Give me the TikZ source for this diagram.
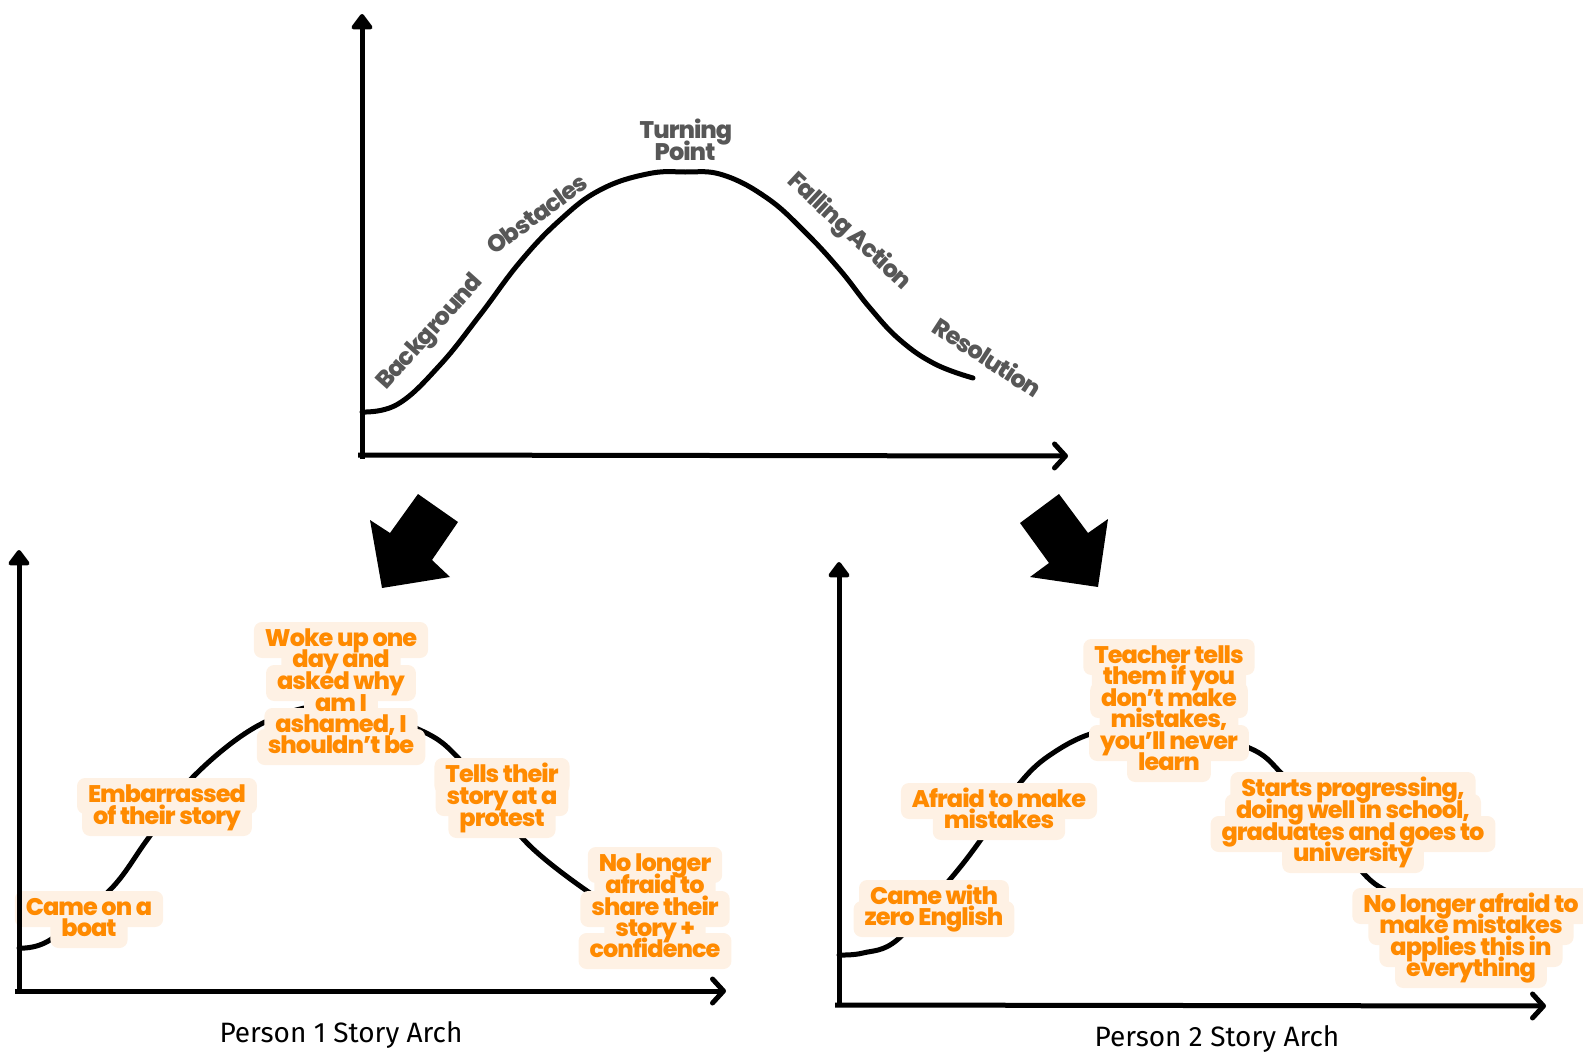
\documentclass[tikz,border=0pt]{standalone}
\usepackage{fontspec}
\setmainfont{Fira Sans}
\newfontfamily\lblfont{Poppins ExtraBold}[LetterSpace=-4]
\newfontfamily\ttlfont{Fira Sans}
\usetikzlibrary{arrows.meta}
\definecolor{peach}{HTML}{FEF1E4}
\definecolor{lblorange}{HTML}{FF8A00}
\definecolor{lblgray}{HTML}{575757}
\pgfdeclarelayer{curves}
\pgfdeclarelayer{hl}
\pgfsetlayers{curves,hl,main}
\newcommand\hlline[4]{%
  \begin{pgfonlayer}{hl}\node[hlbox] at (#2,#3) {#4};\end{pgfonlayer}
  \node[hltext] (#1) at (#2,#3) {#4};}
\tikzset{
  hltext/.style={font=\lblfont\fontsize{24}{24}\selectfont, text=lblorange,
    inner xsep=0pt, inner ysep=0pt, text height=17pt, text depth=5pt},
  hlbox/.style={hltext, fill=peach, text opacity=0, rounded corners=8pt,
    inner xsep=11pt, inner ysep=7pt},
  toplbl/.style={font=\lblfont\fontsize{24}{24}\selectfont, text=lblgray,
    fill=white, inner sep=2pt},
  axisline/.style={line width=5pt, black},
  curveline/.style={line width=5pt, black, line cap=round},
  vtip/.style={-{Triangle[length=17pt,width=24pt,round]}},
  htip/.style={-{Straight Barb[length=11pt,width=24pt,round]}},
  ttl/.style={font=\ttlfont\fontsize{28}{28}\selectfont, text=black}
}
\begin{document}
\begin{tikzpicture}[x=1pt,y=-1pt]
\useasboundingbox (0,0) rectangle (1583,1052);
% ---------- top chart ----------
\coordinate (tO) at (362,459);
\coordinate (tY) at (362,14);
\coordinate (tX0) at (358,455);
\coordinate (tX) at (1068,456);
\draw[axisline, vtip] (tO) -- (tY);
\draw[axisline, htip] (tX0) -- (tX);
\begin{pgfonlayer}{curves}
\draw[curveline] plot[smooth, tension=0.7] coordinates {(362,412) (398,404) (440,365) (480,315) (520,262) (560,220) (600,190) (647,174) (685,172) (723,175) (767,198) (805,232) (840,270) (870,308) (900,340) (935,364) (973,378)};
\end{pgfonlayer}
\node[toplbl, rotate=48] (bg) at (431,333) {Background};
\node[toplbl, rotate=36] (ob) at (537,214) {Obstacles};
\node[toplbl] (tp1) at (686,132) {Turning};
\node[toplbl] (tp2) at (685,151) {Point};
\node[toplbl, rotate=-43] (fa) at (849,232) {Falling Action};
\node[toplbl, rotate=-33] (rs) at (988,357) {Resolution};
% ---------- big arrows ----------
\fill[black] (418,494) -- (458,522) -- (432,560) -- (450,577) -- (382,588) -- (370,520) -- (390,533) -- cycle;
\fill[black] (1059,494) -- (1088,533) -- (1108,519) -- (1098,587) -- (1030,577) -- (1049,563) -- (1020,523) -- cycle;
% ---------- person 1 ----------
\coordinate (aO) at (19,991);
\coordinate (aY) at (19,550);
\coordinate (aX0) at (15,991);
\coordinate (aX) at (726,991);
\draw[axisline, vtip] (aO) -- (aY);
\draw[axisline, htip] (aX0) -- (aX);
\begin{pgfonlayer}{curves}
\draw[curveline] plot[smooth, tension=0.6] coordinates {(19,948) (50,940) (110,890) (147,840) (193,777) (263,723) (338,705) (420,730) (463,763) (527,843) (590,893)};
\end{pgfonlayer}
\hlline{a1}{89}{909}{Came on a}
\hlline{a2}{89}{930}{boat}
\hlline{b1}{167}{796}{Embarrassed}
\hlline{b2}{167}{818}{of their story}
\hlline{c1}{341}{640}{Woke up one}
\hlline{c2}{341}{661}{day and}
\hlline{c3}{341}{683}{asked why}
\hlline{c4}{341}{705}{am I}
\hlline{c5}{341}{726}{ashamed, I}
\hlline{c6}{341}{747}{shouldn’t be}
\hlline{d1}{502}{776}{Tells their}
\hlline{d2}{502}{798}{story at a}
\hlline{d3}{502}{820}{protest}
\hlline{e1}{655}{865}{No longer}
\hlline{e2}{655}{887}{afraid to}
\hlline{e3}{655}{909}{share their}
\hlline{e4}{655}{930}{story +}
\hlline{e5}{655}{951}{confidence}
\node[ttl] (p1) at (341,1035) {Person 1 Story Arch};
% ---------- person 2 ----------
\coordinate (bO) at (839,1005);
\coordinate (bY) at (839,562);
\coordinate (bX0) at (835,1005);
\coordinate (bX) at (1546,1006);
\draw[axisline, vtip] (bO) -- (bY);
\draw[axisline, htip] (bX0) -- (bX);
\begin{pgfonlayer}{curves}
\draw[curveline] plot[smooth, tension=0.6] coordinates {(839,955) (863,953) (897,940) (947,883) (977,845) (1020,783) (1053,753) (1097,732) (1160,724) (1247,747) (1283,775) (1330,830) (1367,877) (1395,895) (1420,905)};
\end{pgfonlayer}
\hlline{f1}{934}{898}{Came with}
\hlline{f2}{934}{919}{zero English}
\hlline{g1}{999}{801}{Afraid to make}
\hlline{g2}{999}{822}{mistakes}
\hlline{h1}{1169}{657}{Teacher tells}
\hlline{h2}{1169}{678}{them if you}
\hlline{h3}{1169}{700}{don’t make}
\hlline{h4}{1169}{721}{mistakes,}
\hlline{h5}{1169}{743}{you’ll never}
\hlline{h6}{1169}{764}{learn}
\hlline{i1}{1353}{790}{Starts progressing,}
\hlline{i2}{1353}{812}{doing well in school,}
\hlline{i3}{1353}{834}{graduates and goes to}
\hlline{i4}{1353}{855}{university}
\hlline{j1}{1471}{906}{No longer afraid to}
\hlline{j2}{1471}{927}{make mistakes}
\hlline{j3}{1471}{949}{applies this in}
\hlline{j4}{1471}{970}{everything}
\node[ttl] (p2) at (1217,1039) {Person 2 Story Arch};
\end{tikzpicture}
\end{document}
